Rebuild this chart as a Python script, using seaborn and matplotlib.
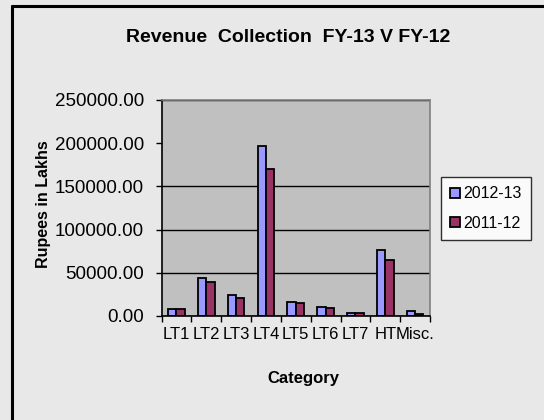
import pandas as pd
import seaborn as sns
import matplotlib.pyplot as plt
from matplotlib.lines import Line2D
from matplotlib.ticker import FixedLocator

categories = ['LT1', 'LT2', 'LT3', 'LT4', 'LT5', 'LT6', 'LT7', 'HT', 'Misc.']
rev_2012_13 = [7700, 44300, 24300, 196800, 16600, 10800, 3900, 76400, 5400]
rev_2011_12 = [8500, 39000, 21200, 170500, 15400, 9600, 3900, 64800, 2700]
years = ['2012-13', '2011-12']
yticks = [0, 50000, 100000, 150000, 200000, 250000]

df = pd.DataFrame({
    'Category': categories * 2,
    'Revenue': rev_2012_13 + rev_2011_12,
    'Year': [years[0]] * len(categories) + [years[1]] * len(categories),
})

sns.set_style('white')
plt.rcParams['font.family'] = ['Liberation Sans', 'DejaVu Sans']
plt.rcParams['text.color'] = 'black'
plt.rcParams['axes.labelcolor'] = 'black'
plt.rcParams['xtick.color'] = 'black'
plt.rcParams['ytick.color'] = 'black'

bg = '#e8e8e8'
fig = plt.figure(figsize=(5.44, 4.2), dpi=100, facecolor=bg)
ax = fig.add_axes([161.5 / 544, 1 - 316 / 420, 268.5 / 544, 216 / 420])
ax.set_facecolor('#c0c0c0')

sns.barplot(data=df, x='Category', y='Revenue', hue='Year', order=categories,
            hue_order=years, palette=['#9999ff', '#993366'], width=0.56,
            edgecolor='black', linewidth=1.3, saturation=1, ax=ax, legend=False)

ax.set_xlim(-0.5, len(categories) - 0.5)
ax.set_ylim(0, 250000)
ax.set_yticks(yticks)
ax.set_yticklabels(['%.2f' % v for v in yticks])
ax.yaxis.grid(True, color='black', linewidth=1)
ax.set_axisbelow(True)
# Excel chart leaves the 200000 gridline / tick out
t200 = ax.yaxis.get_major_ticks()[4]
t200.tick1line.set_visible(False)
t200.gridline.set_visible(False)

# category ticks at boundaries, labels centred
ax.xaxis.set_minor_locator(FixedLocator([i - 0.5 for i in range(len(categories) + 1)]))
ax.tick_params(axis='x', which='major', length=0, labelsize=12, pad=8)
ax.tick_params(axis='x', which='minor', length=4.5, width=1, color='black', direction='out', bottom=True)
ax.tick_params(axis='y', length=4.5, width=1, color='black', direction='out', left=True,
               labelsize=13.5, pad=8)

for s in ['left', 'bottom']:
    ax.spines[s].set_color('black')
    ax.spines[s].set_linewidth(1.2)
for s in ['top', 'right']:
    ax.spines[s].set_color('#808080')
    ax.spines[s].set_linewidth(1.2)

ax.set_xlabel('Category', fontsize=12, fontweight='bold')
ax.xaxis.set_label_coords(0.527, -0.255)
ax.set_ylabel('Rupees in Lakhs', fontsize=11.5, fontweight='bold')
ax.yaxis.set_label_coords(-0.41, 0.52)

fig.text(288 / 544, 1 - 38 / 420, 'Revenue  Collection  FY-13 V FY-12',
         ha='center', va='center', fontsize=14, fontweight='bold')

handles = [plt.Rectangle((0, 0), 1, 1, facecolor=c, edgecolor='black', linewidth=1.3)
           for c in ['#9999ff', '#993366']]
leg = fig.legend(handles, years, loc='upper left', bbox_to_anchor=(440.7 / 544, 1 - 176.7 / 420),
                 fontsize=11.5, frameon=True, fancybox=False, handlelength=0.6,
                 handleheight=0.6, handletextpad=0.2, labelspacing=0.9,
                 borderpad=0.6, borderaxespad=0)
leg.get_frame().set_edgecolor('black')
leg.get_frame().set_facecolor('white')
leg.get_frame().set_linewidth(1)

fig.add_artist(Line2D([11.5 / 544, 11.5 / 544], [0, 1 - 5.5 / 420], color='black', linewidth=2.2))
fig.add_artist(Line2D([11.5 / 544, 1], [1 - 5.5 / 420, 1 - 5.5 / 420], color='black', linewidth=2.2))

fig.savefig('out.png', dpi=100, facecolor=bg)
